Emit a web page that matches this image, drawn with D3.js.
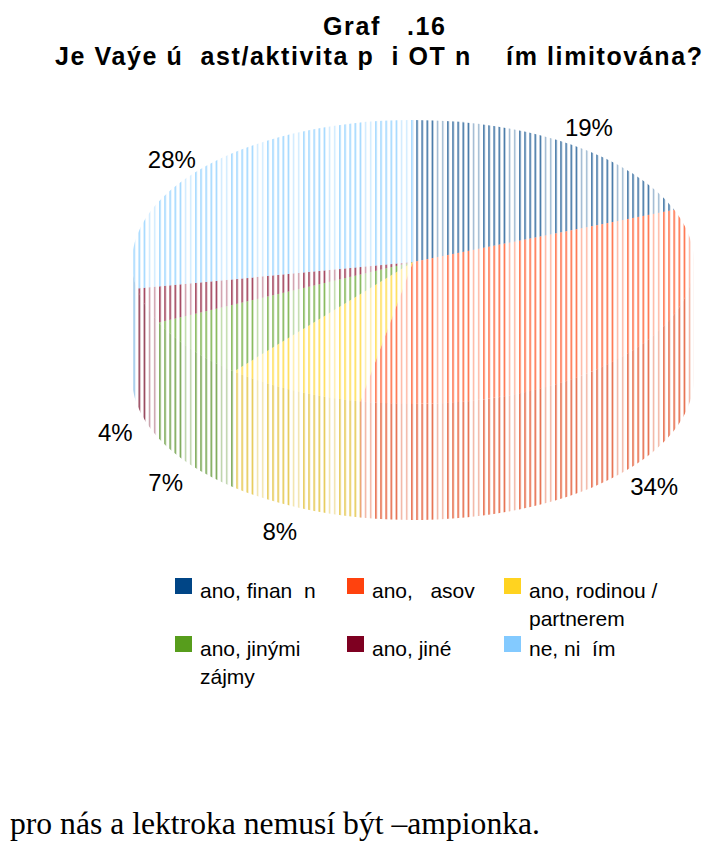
<!DOCTYPE html>
<html>
<head>
<meta charset="utf-8">
<script src="https://cdn.jsdelivr.net/npm/d3@7"></script>
<style>
  html, body { margin: 0; padding: 0; background: #fff; }
  svg { display: block; }
  text { white-space: pre; }
</style>
</head>
<body>
<svg id="chart" width="711" height="844"></svg>
<script>
// ---- data ----
const titleLines = ["Graf   .16", "Je Vaýe ú  ast/aktivita p  i OT n    ím limitována?"];
const categories = [
  ["ano, finan  n"],
  ["ano,   asov"],
  ["ano, rodinou /", "partnerem"],
  ["ano, jinými", "zájmy"],
  ["ano, jiné"],
  ["ne, ni  ím"]
];
const values = [19, 34, 8, 7, 4, 28];
const colors = ["#004586", "#ff420e", "#ffd320", "#579d1c", "#7e0021", "#83caff"];
const footnote = "pro nás a lektroka nemusí být –ampionka.";

// ---- layout ----
const W = 711, H = 844;
const cx = 413, cy = 262;      // hub of the pie's top face
const rx = 281, ry = 142;      // top face radii
const depth = 116;             // height of the pie's side wall
const sans = "'Liberation Sans', Arial, sans-serif";

const svg = d3.select("#chart");
const defs = svg.append("defs");

const pie = d3.pie().sort(null).value(d => d);
const arcs = pie(values);

// point on the rim of the top face (angle 0 = 12 o'clock, clockwise)
const rim = (a, dy = 0) => [cx + rx * Math.sin(a), cy - ry * Math.cos(a) + dy];
const fmt = p => p[0].toFixed(2) + "," + p[1].toFixed(2);

// vertical hatch fills: thin lines with a recurring pair of fainter ones
const period = 36, nLines = 7, step = period / nLines;
function hatch(id, color, strong, faint) {
  const p = defs.append("pattern")
    .attr("id", id)
    .attr("patternUnits", "userSpaceOnUse")
    .attr("x", 411.3).attr("y", 0)
    .attr("width", period).attr("height", H);
  d3.range(nLines).forEach(i => {
    p.append("rect")
      .attr("x", i * step).attr("y", 0)
      .attr("width", 1.3).attr("height", H)
      .attr("fill", color)
      .attr("fill-opacity", i >= 5 ? faint : strong);
  });
}
colors.forEach((c, i) => {
  hatch("top" + i, c, 0.95, 0.45);
  hatch("side" + i, d3.color(c).darker(0.4).formatHex(), 0.95, 0.45);
});

// ---- side wall (front half only) ----
const gPie = svg.append("g");
arcs.forEach((d, i) => {
  const a0 = Math.max(d.startAngle, Math.PI / 2);
  const a1 = Math.min(d.endAngle, 3 * Math.PI / 2);
  if (a1 <= a0) return;
  const path = "M" + fmt(rim(a0)) +
    "A" + rx + "," + ry + " 0 0 1 " + fmt(rim(a1)) +
    "L" + fmt(rim(a1, depth)) +
    "A" + rx + "," + ry + " 0 0 0 " + fmt(rim(a0, depth)) + "Z";
  gPie.append("path").attr("d", path).attr("fill", "url(#side" + i + ")");
});

// ---- top face ----
arcs.forEach((d, i) => {
  const large = (d.endAngle - d.startAngle) > Math.PI ? 1 : 0;
  const path = "M" + cx + "," + cy +
    "L" + fmt(rim(d.startAngle)) +
    "A" + rx + "," + ry + " 0 " + large + " 1 " + fmt(rim(d.endAngle)) + "Z";
  gPie.append("path").attr("d", path).attr("fill", "url(#top" + i + ")");
});

// ---- percentage labels ----
const total = d3.sum(values);
svg.append("g").selectAll("text").data(arcs).join("text")
  .attr("x", d => {
    const a = (d.startAngle + d.endAngle) / 2;
    return rim(a)[0] + Math.sin(a) * 32;
  })
  .attr("y", d => {
    const a = (d.startAngle + d.endAngle) / 2;
    const front = Math.cos(a) < 0 ? depth : 0;
    return rim(a, front)[1] - Math.cos(a) * 24 + 3;
  })
  .attr("dy", "0.36em")
  .attr("text-anchor", "middle")
  .attr("font-family", sans)
  .attr("font-size", 24)
  .attr("fill", "#000")
  .text(d => Math.round(d.value / total * 100) + "%");

// ---- title ----
const title = svg.append("g")
  .attr("font-family", sans).attr("font-weight", "bold").attr("fill", "#000");
title.append("text").attr("x", 323).attr("y", 35)
  .attr("font-size", 25).attr("textLength", 122).attr("lengthAdjust", "spacing")
  .text(titleLines[0]);
title.append("text").attr("x", 55).attr("y", 65)
  .attr("font-size", 25).attr("textLength", 647).attr("lengthAdjust", "spacing")
  .text(titleLines[1]);

// ---- legend ----
const legendColX = [175, 347, 504];
const legendRowY = [578, 636];
const legend = svg.append("g").attr("font-family", sans).attr("font-size", 21).attr("fill", "#000");
categories.forEach((lines, i) => {
  const x = legendColX[i % 3], y = legendRowY[Math.floor(i / 3)];
  legend.append("rect").attr("x", x).attr("y", y).attr("width", 17).attr("height", 16)
    .attr("fill", colors[i]);
  const t = legend.append("text").attr("x", x + 25).attr("y", y + 20);
  lines.forEach((s, j) => {
    t.append("tspan").attr("x", x + 25).attr("dy", j === 0 ? 0 : 28).text(s);
  });
});

// ---- running text below the chart ----
svg.append("text")
  .attr("x", 10).attr("y", 834)
  .attr("font-family", "'Liberation Serif', 'Times New Roman', serif")
  .attr("font-size", 31)
  .attr("textLength", 530).attr("lengthAdjust", "spacingAndGlyphs")
  .attr("fill", "#000")
  .text(footnote);
</script>
</body>
</html>
